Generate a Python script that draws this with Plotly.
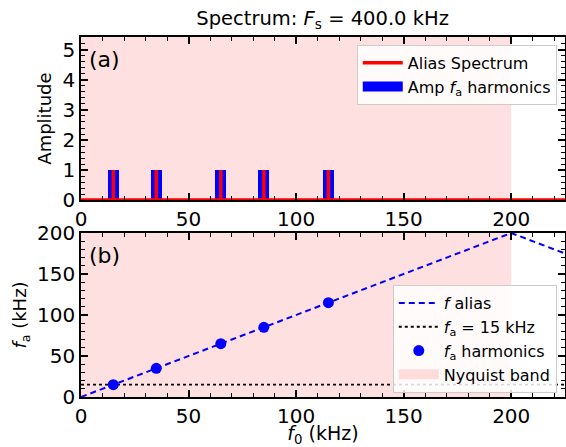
import plotly.graph_objects as go

fs_khz = 400.0
nyquist = fs_khz / 2
harm_f0 = [15, 35, 65, 85, 115]
harm_fa = [15, 35, 65, 85, 115]
harm_amp = [1, 1, 1, 1, 1]
alias_f0 = [0, 200, 225]
alias_fa = [0, 200, 175]
fa_target = 15
x_max = 225
amp_max = 5.43

FONT = "DejaVu Sans"
PINK = "rgba(255,0,0,0.12)"
fig = go.Figure()

# Nyquist band shading
fig.add_shape(type="rect", xref="x", yref="y domain", x0=0, x1=nyquist, y0=0, y1=1,
              fillcolor=PINK, line_width=0, layer="below")
fig.add_shape(type="rect", xref="x2", yref="y2 domain", x0=0, x1=nyquist, y0=0, y1=1,
              fillcolor=PINK, line_width=0, layer="below")

# top panel: bars + alias spectrum line
fig.add_trace(go.Bar(x=harm_f0, y=harm_amp, width=5, marker=dict(color="blue", line_width=0),
                     showlegend=False, xaxis="x", yaxis="y"))
sx, sy = [0], [0]
for f, a in zip(harm_f0, harm_amp):
    sx += [f, f, f]
    sy += [0, a, 0]
sx.append(x_max)
sy.append(0)
fig.add_trace(go.Scatter(x=sx, y=sy, mode="lines", line=dict(color="red", width=3.5),
                         name="Alias Spectrum", xaxis="x", yaxis="y", legend="legend"))
# legend-only entry for the bars (wide rectangle swatch)
fig.add_trace(go.Scatter(x=[None], y=[None], mode="lines", line=dict(color="blue", width=11),
                         name="Amp <i>f</i><sub>a</sub> harmonics", xaxis="x", yaxis="y", legend="legend"))

# bottom panel
fig.add_trace(go.Scatter(x=alias_f0, y=alias_fa, mode="lines",
                         line=dict(color="blue", width=2, dash="6px,4px"),
                         name="<i>f</i> alias", xaxis="x2", yaxis="y2", legend="legend2"))
fig.add_trace(go.Scatter(x=[0, x_max], y=[fa_target, fa_target], mode="lines",
                         line=dict(color="black", width=1.8, dash="dot"),
                         name="<i>f</i><sub>a</sub> = 15 kHz", xaxis="x2", yaxis="y2", legend="legend2"))
fig.add_trace(go.Scatter(x=harm_f0, y=harm_fa, mode="markers",
                         marker=dict(color="blue", size=11),
                         name="<i>f</i><sub>a</sub> harmonics", xaxis="x2", yaxis="y2", legend="legend2"))
fig.add_trace(go.Scatter(x=[None], y=[None], mode="lines", line=dict(color=PINK, width=11),
                         name="Nyquist band", xaxis="x2", yaxis="y2", legend="legend2"))

axcommon = dict(showline=True, linecolor="black", linewidth=1.5, mirror="allticks",
                ticks="inside", ticklen=7, tickwidth=1.5, tickcolor="black",
                showgrid=False, zeroline=False, automargin=False,
                tickfont=dict(family=FONT, size=20, color="black"),
                minor=dict(ticks="inside", ticklen=4, tickwidth=1, tickcolor="black", showgrid=False))

fig.update_layout(
    width=566, height=447,
    margin=dict(l=81, r=1, t=37, b=50),
    plot_bgcolor="white", paper_bgcolor="white",
    font=dict(family=FONT, size=16, color="black"),
    bargap=0,
    title=dict(text="Spectrum: <i>F</i><sub>s</sub> = 400.0 kHz", x=0.570, xanchor="center",
               y=0.96, yanchor="middle", font=dict(size=19.5)),
    xaxis=dict(axcommon, domain=[0, 1], range=[0, x_max], anchor="y", dtick=50,
               minor=dict(axcommon["minor"], dtick=10)),
    yaxis=dict(axcommon, domain=[0.547, 1], range=[0, amp_max], anchor="x", dtick=1,
               minor=dict(axcommon["minor"], dtick=0.2),
               title=dict(text="Amplitude", font=dict(size=18), standoff=6)),
    xaxis2=dict(axcommon, domain=[0, 1], range=[0, x_max], anchor="y2", dtick=50,
                minor=dict(axcommon["minor"], dtick=10),
                title=dict(text="<i>f</i><sub>0</sub> (kHz)", font=dict(size=19), standoff=6)),
    yaxis2=dict(axcommon, domain=[0, 0.4556], range=[0, 200], anchor="x2", dtick=50,
                minor=dict(axcommon["minor"], dtick=10),
                title=dict(text="<i>f</i><sub>a</sub> (kHz)", font=dict(size=18), standoff=6)),
    legend=dict(x=0.983, y=0.978, xanchor="right", yanchor="top", xref="paper", yref="paper",
                bgcolor="rgba(255,255,255,0.85)", bordercolor="#cccccc", borderwidth=1,
                font=dict(size=16), itemwidth=40),
    legend2=dict(x=0.983, y=0.311, xanchor="right", yanchor="top", xref="paper", yref="paper",
                 bgcolor="rgba(255,255,255,0.85)", bordercolor="#cccccc", borderwidth=1,
                 font=dict(size=16), itemwidth=40),
    annotations=[
        dict(text="(a)", xref="x domain", yref="y domain", x=0.012, y=0.95, xanchor="left",
             yanchor="top", showarrow=False, font=dict(size=22)),
        dict(text="(b)", xref="x2 domain", yref="y2 domain", x=0.012, y=0.95, xanchor="left",
             yanchor="top", showarrow=False, font=dict(size=22)),
    ],
)

fig.write_html("out.html", config={"displayModeBar": False},
               post_script="document.body.style.margin='0px';document.body.style.overflow='hidden';")
